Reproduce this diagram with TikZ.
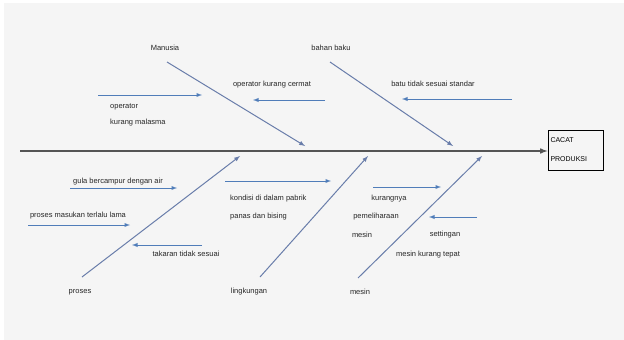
\documentclass[tikz,border=0pt]{standalone}
\usepackage{fontspec}
\setmainfont{Liberation Sans}
\definecolor{bonec}{RGB}{105,125,170}
\definecolor{causec}{RGB}{80,125,185}
\definecolor{spinec}{RGB}{85,85,85}
\definecolor{bgc}{RGB}{245,245,245}

\begin{document}
\begin{tikzpicture}[x=1pt, y=-1pt, >=latex,
    lbl/.style={font=\fontsize{7.5}{8}\selectfont, inner sep=0pt, text=black!85},
    bone/.style={->, line width=1pt, draw=bonec},
    cause/.style={->, line width=0.9pt, draw=causec}]
    \useasboundingbox (0,0) rectangle (624,340);
	\fill[bgc] (4,3) rectangle (624,340);
	% kepala ikan
	\node[draw, line width=1pt, minimum width=55pt, minimum height=40pt, inner sep=2pt,
	      text width=50pt, align=left, font=\fontsize{7}{19}\selectfont] (cacat) at (575.5,150) {CACAT\\PRODUKSI};
	\coordinate (ekor) at (20,151);
	\draw[->, line width=1.5pt, spinec] (ekor) -- (ekor -| cacat.west);
	% tulang utama
	\coordinate (manusia-s) at (167,62);   \coordinate (manusia-e) at (305,146);
	\coordinate (bahan-s) at (330,62);     \coordinate (bahan-e) at (453,146);
	\coordinate (proses-s) at (82,277);    \coordinate (proses-e) at (240,156);
	\coordinate (lingk-s) at (260,277);    \coordinate (lingk-e) at (368,156);
	\coordinate (mesin-s) at (358,278);    \coordinate (mesin-e) at (482,156);
	\draw[bone] (manusia-s) -- (manusia-e);
	\draw[bone] (bahan-s) -- (bahan-e);
	\draw[bone] (proses-s) -- (proses-e);
	\draw[bone] (lingk-s) -- (lingk-e);
	\draw[bone] (mesin-s) -- (mesin-e);
	\node[lbl] (manusia) at (165,48) {Manusia};
	\node[lbl] (bahan) at (331,48) {bahan baku};
	\node[lbl] (proses) at (80,292) {proses};
	\node[lbl] (lingk) at (249,292) {lingkungan};
	\node[lbl] (mesin) at (360,292) {mesin};
	% sebab - manusia
	\coordinate (mahir-s) at (98,95);      \coordinate (mahir-e) at (202,95);
	\draw[cause] (mahir-s) -- (mahir-e);
	\node[lbl, anchor=west] (mahir1) at (110,107) {operator};
	\node[lbl, anchor=west] (mahir2) at (110,123) {kurang malasma};
	\coordinate (cermat-s) at (325,100);   \coordinate (cermat-e) at (253,100);
	\draw[cause] (cermat-s) -- (cermat-e);
	\node[lbl] (cermat) at (272,85) {operator kurang cermat};
	% sebab - bahan baku
	\coordinate (batu-s) at (512,99);      \coordinate (batu-e) at (402,99);
	\draw[cause] (batu-s) -- (batu-e);
	\node[lbl] (batu) at (433,84) {batu tidak sesuai standar};
	% sebab - proses
	\node[lbl] (gula) at (118,182) {gula bercampur dengan air};
	\coordinate (gula-s) at (70,188);      \coordinate (gula-e) at (177,188);
	\draw[cause] (gula-s) -- (gula-e);
	\node[lbl] (lama) at (78,216) {proses masukan terlalu lama};
	\coordinate (lama-s) at (28,225);      \coordinate (lama-e) at (130,225);
	\draw[cause] (lama-s) -- (lama-e);
	\coordinate (takaran-s) at (202,245);  \coordinate (takaran-e) at (132,245);
	\draw[cause] (takaran-s) -- (takaran-e);
	\node[lbl] (takaran) at (186,254) {takaran tidak sesuai};
	% sebab - lingkungan
	\coordinate (pabrik-s) at (225,181);   \coordinate (pabrik-e) at (331,181);
	\draw[cause] (pabrik-s) -- (pabrik-e);
	\node[lbl, anchor=west] (pabrik1) at (230,199) {kondisi di dalam pabrik};
	\node[lbl, anchor=west] (pabrik2) at (230,217) {panas dan bising};
	% sebab - mesin
	\coordinate (rawat-s) at (373,187);    \coordinate (rawat-e) at (441,187);
	\draw[cause] (rawat-s) -- (rawat-e);
	\node[lbl] (rawat1) at (389,199) {kurangnya};
	\node[lbl] (rawat2) at (376,217) {pemeliharaan};
	\node[lbl] (rawat3) at (362,235) {mesin};
	\coordinate (setting-s) at (477,217);  \coordinate (setting-e) at (429,217);
	\draw[cause] (setting-s) -- (setting-e);
	\node[lbl] (setting1) at (445,235) {settingan};
	\node[lbl] (setting2) at (428,255) {mesin kurang tepat};
\end{tikzpicture}
\end{document}
